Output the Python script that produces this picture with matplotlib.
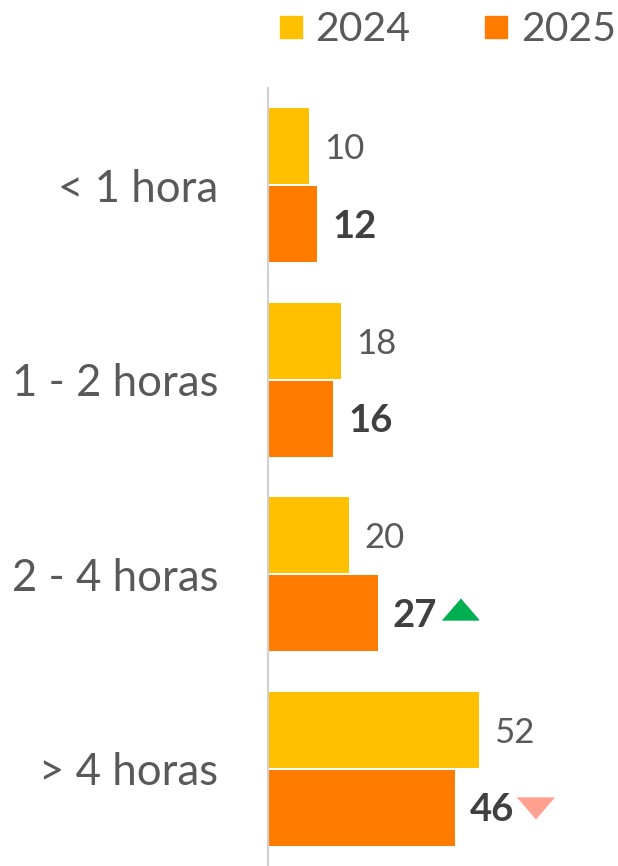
import numpy as np
import matplotlib
matplotlib.use("Agg")
import matplotlib.pyplot as plt
import matplotlib.transforms as mtransforms
from matplotlib.lines import Line2D

plt.rcParams['font.family'] = ['Lato', 'DejaVu Sans']

categories = ['< 1 hora', '1 - 2 horas', '2 - 4 horas', '> 4 horas']
v2024 = [10, 18, 20, 52]
v2025 = [12, 16, 27, 46]
trend = [None, None, 'up', 'down']  # marcador junto a 2025

c2024 = '#FFC000'
c2025 = '#FF7C00'
gray_txt = '#595959'
dark_txt = '#404040'

fig = plt.figure(figsize=(6.18, 8.66), dpi=100)
ax = fig.add_axes([268/618, 0, 350/618, 778/866])

y = np.arange(len(categories))
h = 0.39
off = 0.2
ax.barh(y - off, v2024, height=h, color=c2024)
ax.barh(y + off, v2025, height=h, color=c2025)

ax.set_xlim(0, 86.2)
ax.set_ylim(3.5, -0.5)
ax.set_yticks(y)
ax.set_yticklabels(categories, fontsize=31.5, color=gray_txt)
ax.tick_params(axis='y', length=0, pad=36)
ax.set_xticks([])
for s in ['top', 'right', 'bottom']:
    ax.spines[s].set_visible(False)
ax.spines['left'].set_color('#d0d0d0')
ax.spines['left'].set_linewidth(1.5)

for yi, a, b in zip(y, v2024, v2025):
    ax.annotate(str(a), (a, yi - off), xytext=(11, -2), textcoords='offset points',
                va='center', ha='left', fontsize=25, color=gray_txt)
    ax.annotate(str(b), (b, yi + off), xytext=(11, -2), textcoords='offset points',
                va='center', ha='left', fontsize=27.5, color=dark_txt, fontweight='bold')

tri_up = [(-1, -0.58), (1, -0.58), (0, 0.58)]
tri_dn = [(-1, 0.58), (1, 0.58), (0, -0.58)]
for yi, b, t in zip(y, v2025, trend):
    if t is None:
        continue
    if t == 'up':
        tr = mtransforms.offset_copy(ax.transData, fig=fig, x=59, y=3, units='points')
        ax.plot([b], [yi + off], marker=tri_up, markersize=26, color='#00B050',
                linestyle='none', transform=tr, clip_on=False)
    else:
        tr = mtransforms.offset_copy(ax.transData, fig=fig, x=58, y=0, units='points')
        ax.plot([b], [yi + off], marker=tri_dn, markersize=26, color='#FFA090',
                linestyle='none', transform=tr, clip_on=False)

handles = [Line2D([], [], marker='s', linestyle='none', markersize=15.5, color=c2024),
           Line2D([], [], marker='s', linestyle='none', markersize=15.5, color=c2025)]
leg = fig.legend(handles, ['2024', '2025'], loc='upper right', bbox_to_anchor=(1.056, 1.03),
                 ncol=2, frameon=False, fontsize=29.5, handletextpad=0.1,
                 columnspacing=1.6, handlelength=1.0)
for t in leg.get_texts():
    t.set_color(gray_txt)

fig.savefig('out.png', dpi=100)
